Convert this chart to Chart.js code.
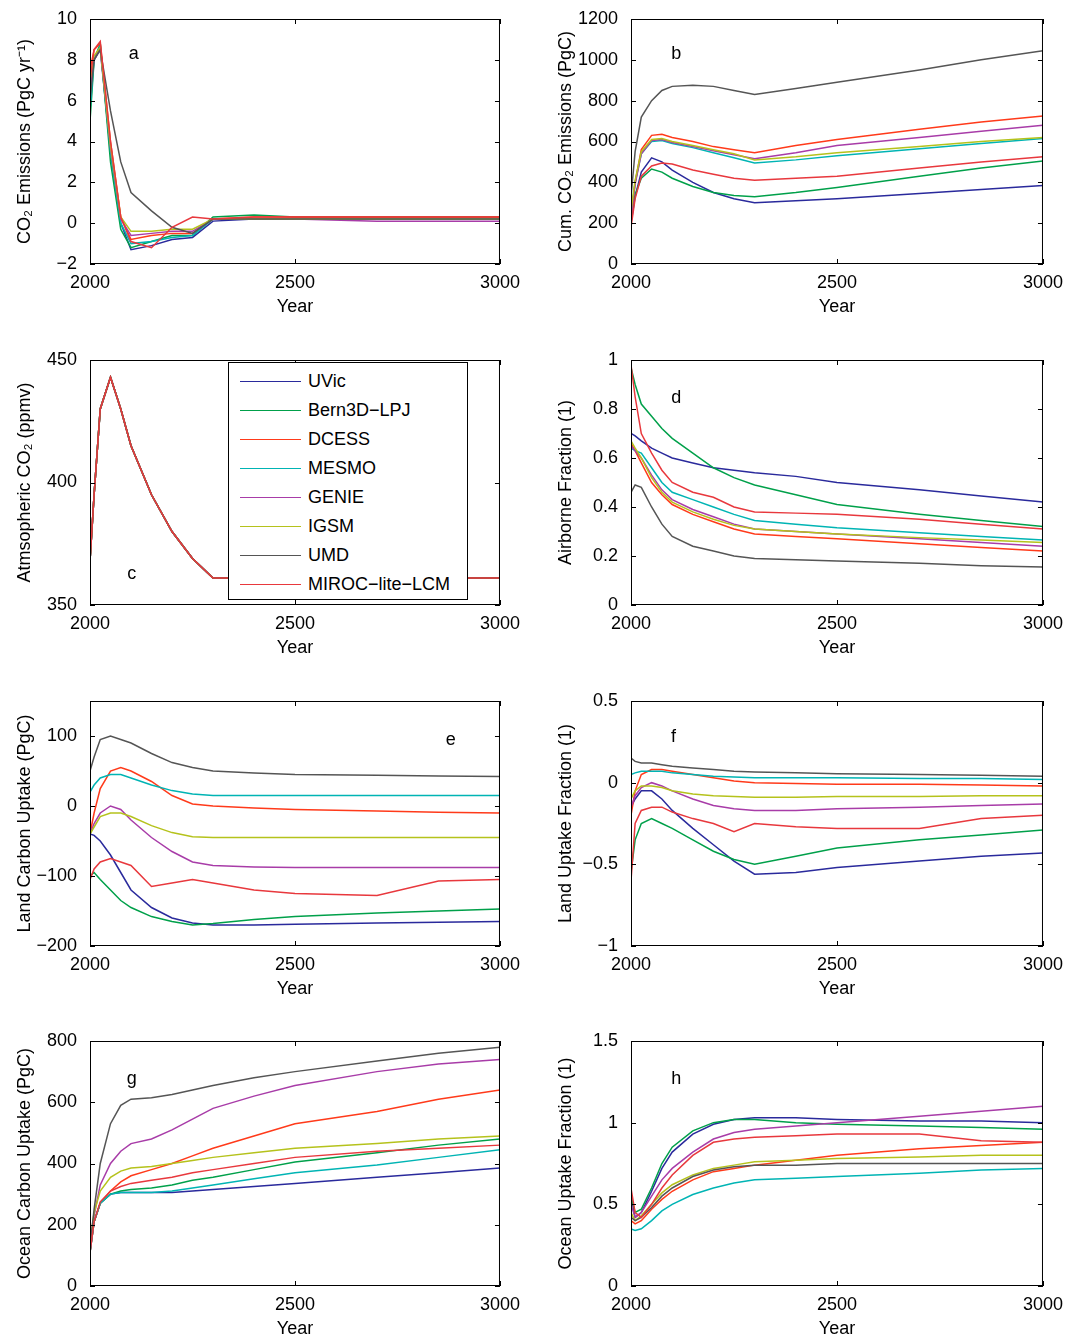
<!DOCTYPE html>
<html>
<head>
<meta charset="utf-8">
<script src="https://cdn.jsdelivr.net/npm/chart.js@4.4.0/dist/chart.umd.min.js"></script>
<style>
  body { margin: 0; width: 1066px; height: 1334px; overflow: hidden; background: #fff; position: relative; font-family: "Liberation Sans", Arial, sans-serif; }
  canvas { position: absolute; }
  #legend { position: absolute; left: 228px; top: 362px; width: 240px; height: 238px; border: 1px solid #000; background: #fff; box-sizing: border-box; }
  #legend div { position: absolute; left: 0; height: 29px; font-size: 18px; line-height: 29px; }
  #legend span.ln { position: absolute; left: 11px; top: 14px; width: 61px; height: 0; border-top: 1.5px solid; }
  #legend span.tx { position: absolute; left: 79px; white-space: nowrap; }
</style>
</head>
<body>
<script>
'use strict';

// DATA
const years = [2000, 2010, 2025, 2050, 2075, 2100, 2150, 2200, 2250, 2300, 2400, 2500, 2700, 2850, 3000];
const models = ['UVic', 'Bern3D\u2212LPJ', 'DCESS', 'MESMO', 'GENIE', 'IGSM', 'UMD', 'MIROC\u2212lite\u2212LCM'];
const colors = ['#2a2a9c', '#00a04a', '#ff3a1a', '#00b4b4', '#a83ca8', '#b5c21c', '#555555', '#e8383d'];

// a: CO2 emissions
const emisUVic  = [7, 8, 8.5, 3.5, 0, -1.3, -1.1, -0.8, -0.7, 0.1, 0.2, 0.2, 0.2, 0.2, 0.2];
const emisBern  = [5, 8, 8.8, 3, -0.3, -1.2, -0.9, -0.6, -0.6, 0.3, 0.4, 0.3, 0.3, 0.3, 0.3];
const emisDCESS = [7.5, 8.5, 8.8, 4, 0.3, -0.8, -0.6, -0.5, -0.5, 0.2, 0.3, 0.3, 0.3, 0.3, 0.3];
const emisMESMO = [5.5, 8, 8.7, 3.5, 0, -1.0, -0.9, -0.7, -0.6, 0.2, 0.2, 0.2, 0.2, 0.2, 0.2];
const emisGENIE = [6.5, 8, 8.6, 3.7, 0.2, -0.6, -0.5, -0.4, -0.4, 0.2, 0.2, 0.2, 0.1, 0.1, 0.1];
const emisIGSM  = [7, 8.2, 8.6, 3.8, 0.3, -0.4, -0.4, -0.3, -0.3, 0.2, 0.2, 0.2, 0.2, 0.2, 0.2];
const emisUMD   = [6, 8, 8.5, 5.5, 3, 1.5, 0.6, -0.2, -0.5, 0.2, 0.2, 0.2, 0.2, 0.2, 0.2];
const emisMIROC = [7, 8.5, 8.9, 4, 0.3, -0.9, -1.2, -0.2, 0.3, 0.2, 0.3, 0.3, 0.3, 0.3, 0.3];

// b: cumulative emissions
const cumUVic  = [200, 330, 450, 520, 500, 460, 400, 350, 320, 300, 310, 320, 345, 365, 385];
const cumBern  = [230, 340, 420, 465, 450, 420, 380, 350, 335, 330, 350, 375, 430, 470, 505];
const cumDCESS = [220, 400, 560, 630, 635, 620, 600, 575, 560, 545, 580, 610, 660, 695, 725];
const cumMESMO = [250, 400, 540, 600, 605, 590, 570, 545, 520, 495, 510, 530, 565, 590, 615];
const cumGENIE = [230, 390, 540, 605, 610, 595, 575, 555, 535, 515, 545, 580, 620, 650, 680];
const cumIGSM  = [260, 410, 550, 610, 615, 600, 580, 560, 540, 510, 525, 545, 575, 600, 620];
const cumUMD   = [330, 550, 720, 800, 850, 870, 875, 870, 850, 830, 860, 890, 950, 1000, 1045];
const cumMIROC = [180, 320, 430, 480, 495, 490, 460, 440, 420, 410, 420, 430, 470, 500, 525];

// c: atmospheric CO2 (same for all models)
const atmCO2 = [368, 395, 430, 443, 430, 415, 395, 380, 369, 361, 361, 361, 361, 361, 361];

// d: airborne fraction
const afUVic  = [0.70, 0.69, 0.67, 0.64, 0.62, 0.60, 0.58, 0.56, 0.55, 0.54, 0.525, 0.50, 0.47, 0.445, 0.42];
const afBern  = [0.97, 0.90, 0.82, 0.77, 0.72, 0.68, 0.62, 0.56, 0.52, 0.49, 0.45, 0.41, 0.37, 0.345, 0.32];
const afDCESS = [0.66, 0.63, 0.58, 0.50, 0.45, 0.41, 0.37, 0.34, 0.31, 0.29, 0.28, 0.27, 0.25, 0.235, 0.22];
const afMESMO = [0.64, 0.63, 0.62, 0.56, 0.50, 0.46, 0.43, 0.40, 0.37, 0.345, 0.33, 0.315, 0.295, 0.28, 0.265];
const afGENIE = [0.65, 0.63, 0.60, 0.53, 0.47, 0.43, 0.39, 0.36, 0.33, 0.31, 0.30, 0.29, 0.27, 0.255, 0.24];
const afIGSM  = [0.67, 0.64, 0.60, 0.52, 0.46, 0.42, 0.38, 0.35, 0.325, 0.31, 0.30, 0.29, 0.275, 0.265, 0.255];
const afUMD   = [0.46, 0.49, 0.48, 0.40, 0.33, 0.28, 0.24, 0.22, 0.20, 0.19, 0.185, 0.18, 0.17, 0.16, 0.155];
const afMIROC = [0.98, 0.85, 0.70, 0.62, 0.55, 0.50, 0.46, 0.44, 0.40, 0.38, 0.375, 0.37, 0.35, 0.33, 0.31];

// e: land carbon uptake
const lcUVic  = [-40, -42, -50, -70, -95, -120, -145, -160, -167, -170, -170, -169, -167, -166, -165];
const lcBern  = [-100, -95, -105, -120, -135, -145, -158, -165, -170, -168, -162, -158, -153, -150, -147];
const lcDCESS = [-40, -10, 25, 50, 55, 50, 35, 15, 3, 0, -3, -5, -7, -9, -10];
const lcMESMO = [20, 30, 40, 45, 45, 40, 30, 22, 17, 15, 15, 15, 15, 15, 15];
const lcGENIE = [-40, -25, -10, 0, -5, -20, -45, -65, -80, -85, -87, -88, -88, -88, -88];
const lcIGSM  = [-40, -30, -15, -10, -10, -15, -28, -38, -44, -45, -45, -45, -45, -45, -45];
const lcUMD   = [50, 70, 95, 100, 95, 90, 75, 62, 55, 50, 47, 45, 44, 43, 42];
const lcMIROC = [-105, -90, -80, -75, -80, -85, -115, -110, -105, -110, -120, -125, -128, -107, -105];

// f: land uptake fraction
const lfUVic  = [-0.15, -0.1, -0.05, -0.05, -0.1, -0.17, -0.28, -0.38, -0.48, -0.56, -0.55, -0.52, -0.48, -0.45, -0.43];
const lfBern  = [-0.55, -0.35, -0.25, -0.22, -0.25, -0.28, -0.35, -0.42, -0.47, -0.5, -0.45, -0.40, -0.35, -0.32, -0.29];
const lfDCESS = [-0.2, -0.05, 0.05, 0.08, 0.08, 0.07, 0.05, 0.03, 0.01, 0, -0.005, -0.01, -0.01, -0.015, -0.02];
const lfMESMO = [0.05, 0.06, 0.07, 0.07, 0.07, 0.06, 0.05, 0.04, 0.035, 0.03, 0.03, 0.03, 0.025, 0.025, 0.02];
const lfGENIE = [-0.15, -0.08, -0.03, 0, -0.02, -0.05, -0.10, -0.14, -0.16, -0.17, -0.17, -0.16, -0.15, -0.14, -0.13];
const lfIGSM  = [-0.1, -0.05, -0.02, -0.02, -0.03, -0.05, -0.07, -0.08, -0.085, -0.09, -0.09, -0.085, -0.085, -0.08, -0.08];
const lfUMD   = [0.15, 0.13, 0.12, 0.12, 0.11, 0.10, 0.09, 0.08, 0.07, 0.065, 0.06, 0.055, 0.05, 0.045, 0.04];
const lfMIROC = [-0.6, -0.25, -0.17, -0.15, -0.15, -0.18, -0.22, -0.25, -0.30, -0.25, -0.27, -0.28, -0.28, -0.22, -0.20];

// g: ocean carbon uptake
const ocUVic  = [110, 210, 270, 300, 305, 305, 305, 305, 310, 315, 325, 335, 355, 370, 385];
const ocBern  = [110, 210, 270, 300, 310, 315, 320, 330, 345, 355, 380, 405, 435, 460, 480];
const ocDCESS = [110, 210, 270, 310, 340, 360, 380, 400, 425, 450, 490, 530, 570, 610, 640];
const ocMESMO = [110, 210, 270, 300, 305, 305, 305, 310, 320, 330, 350, 370, 395, 420, 445];
const ocGENIE = [120, 230, 330, 400, 440, 465, 480, 510, 545, 580, 620, 655, 700, 725, 740];
const ocIGSM  = [140, 240, 310, 355, 375, 385, 390, 400, 410, 420, 435, 450, 465, 480, 490];
const ocUMD   = [130, 250, 400, 530, 590, 610, 615, 625, 640, 655, 680, 700, 735, 760, 780];
const ocMIROC = [110, 210, 275, 310, 325, 335, 345, 355, 370, 380, 400, 420, 440, 450, 460];

// h: ocean uptake fraction
const ofUVic  = [0.55, 0.42, 0.45, 0.58, 0.72, 0.82, 0.93, 0.99, 1.02, 1.03, 1.03, 1.02, 1.01, 1.01, 1.0];
const ofBern  = [0.55, 0.45, 0.47, 0.60, 0.75, 0.85, 0.95, 1.0, 1.02, 1.02, 1.00, 0.99, 0.98, 0.97, 0.96];
const ofDCESS = [0.4, 0.38, 0.40, 0.47, 0.53, 0.58, 0.65, 0.70, 0.72, 0.74, 0.77, 0.80, 0.84, 0.86, 0.88];
const ofMESMO = [0.35, 0.34, 0.35, 0.40, 0.46, 0.50, 0.56, 0.60, 0.63, 0.65, 0.66, 0.67, 0.69, 0.71, 0.72];
const ofGENIE = [0.5, 0.42, 0.45, 0.55, 0.65, 0.72, 0.82, 0.90, 0.94, 0.96, 0.98, 1.0, 1.04, 1.07, 1.1];
const ofIGSM  = [0.45, 0.40, 0.43, 0.50, 0.57, 0.62, 0.68, 0.72, 0.74, 0.76, 0.77, 0.78, 0.79, 0.80, 0.80];
const ofUMD   = [0.42, 0.40, 0.42, 0.48, 0.55, 0.60, 0.67, 0.71, 0.73, 0.74, 0.74, 0.75, 0.75, 0.75, 0.75];
const ofMIROC = [0.6, 0.45, 0.42, 0.50, 0.60, 0.68, 0.80, 0.88, 0.90, 0.91, 0.92, 0.93, 0.93, 0.89, 0.88];

const xTicks = [2000, 2500, 3000];

// PANELS
const panels = [
  { letter: 'a', lx: 0.107, ly: 0.143, title: 'CO\u2082 Emissions (PgC yr\u207B\u00B9)', min: -2, max: 10, ticks: [-2, 0, 2, 4, 6, 8, 10],
    series: [emisUVic, emisBern, emisDCESS, emisMESMO, emisGENIE, emisIGSM, emisUMD, emisMIROC] },
  { letter: 'b', lx: 0.11, ly: 0.143, title: 'Cum. CO\u2082 Emissions (PgC)', min: 0, max: 1200, ticks: [0, 200, 400, 600, 800, 1000, 1200],
    series: [cumUVic, cumBern, cumDCESS, cumMESMO, cumGENIE, cumIGSM, cumUMD, cumMIROC] },
  { letter: 'c', lx: 0.102, ly: 0.873, title: 'Atmsopheric CO\u2082 (ppmv)', min: 350, max: 450, ticks: [350, 400, 450],
    series: [atmCO2, atmCO2, atmCO2, atmCO2, atmCO2, atmCO2, atmCO2, atmCO2] },
  { letter: 'd', lx: 0.11, ly: 0.155, title: 'Airborne Fraction (1)', min: 0, max: 1, ticks: [0, 0.2, 0.4, 0.6, 0.8, 1],
    series: [afUVic, afBern, afDCESS, afMESMO, afGENIE, afIGSM, afUMD, afMIROC] },
  { letter: 'e', lx: 0.88, ly: 0.16, title: 'Land Carbon Uptake (PgC)', min: -200, max: 150, ticks: [-200, -100, 0, 100],
    series: [lcUVic, lcBern, lcDCESS, lcMESMO, lcGENIE, lcIGSM, lcUMD, lcMIROC] },
  { letter: 'f', lx: 0.103, ly: 0.148, title: 'Land Uptake Fraction (1)', min: -1, max: 0.5, ticks: [-1, -0.5, 0, 0.5],
    series: [lfUVic, lfBern, lfDCESS, lfMESMO, lfGENIE, lfIGSM, lfUMD, lfMIROC] },
  { letter: 'g', lx: 0.102, ly: 0.155, title: 'Ocean Carbon Uptake (PgC)', min: 0, max: 800, ticks: [0, 200, 400, 600, 800],
    series: [ocUVic, ocBern, ocDCESS, ocMESMO, ocGENIE, ocIGSM, ocUMD, ocMIROC] },
  { letter: 'h', lx: 0.11, ly: 0.155, title: 'Ocean Uptake Fraction (1)', min: 0, max: 1.5, ticks: [0, 0.5, 1, 1.5],
    series: [ofUVic, ofBern, ofDCESS, ofMESMO, ofGENIE, ofIGSM, ofUMD, ofMIROC] }
];

const rowTops = [0, 341, 682, 1022];
const font = { family: '"Liberation Sans", Arial, sans-serif', size: 18 };

function fmt(v) {
  if (v < 0) return '\u2212' + Math.abs(v);
  return String(v);
}

// frame, inward ticks and letter
const framePlugin = {
  id: 'frame',
  afterDatasetsDraw(chart, args, opts) {
    const a = chart.chartArea, ctx = chart.ctx;
    ctx.save();
    ctx.strokeStyle = '#000';
    ctx.lineWidth = 1;
    ctx.strokeRect(a.left + 0.5, a.top + 0.5, a.right - a.left - 1, a.bottom - a.top - 1);
    const xs = chart.scales.x, ys = chart.scales.y;
    ctx.beginPath();
    xs.ticks.forEach(t => {
      const px = Math.round(xs.getPixelForValue(t.value)) + 0.5;
      ctx.moveTo(px, a.bottom); ctx.lineTo(px, a.bottom - 5);
      ctx.moveTo(px, a.top); ctx.lineTo(px, a.top + 5);
    });
    ys.ticks.forEach(t => {
      const py = Math.round(ys.getPixelForValue(t.value)) + 0.5;
      ctx.moveTo(a.left, py); ctx.lineTo(a.left + 5, py);
      ctx.moveTo(a.right, py); ctx.lineTo(a.right - 5, py);
    });
    ctx.stroke();
    ctx.fillStyle = '#000';
    ctx.font = '18px ' + font.family;
    ctx.textAlign = 'center';
    ctx.textBaseline = 'middle';
    ctx.fillText(opts.letter, a.left + opts.lx * (a.right - a.left), a.top + opts.ly * (a.bottom - a.top));
    ctx.restore();
  }
};

panels.forEach(function(p, i) {
  const col = i % 2, row = Math.floor(i / 2);
  const canvas = document.createElement('canvas');
  const w = col === 0 ? 520 : 522;
  canvas.width = w; canvas.height = 322;
  canvas.style.left = (col === 0 ? 0 : 541) + 'px';
  canvas.style.top = rowTops[row] + 'px';
  canvas.style.width = w + 'px'; canvas.style.height = '322px';
  document.body.appendChild(canvas);

  const datasets = p.series.map(function(vals, k) {
    return {
      label: models[k],
      data: vals.map((v, j) => ({ x: years[j], y: v })),
      borderColor: colors[k],
      borderWidth: 1.5,
      pointRadius: 0,
      fill: false,
      order: models.length - k
    };
  });

  new Chart(canvas.getContext('2d'), {
    type: 'line',
    data: { datasets: datasets },
    plugins: [framePlugin],
    options: {
      responsive: false,
      animation: false,
      devicePixelRatio: 1,
      layout: { padding: { top: 19, right: 0, left: 0, bottom: 0 } },
      plugins: { legend: { display: false }, tooltip: { enabled: false }, frame: { letter: p.letter, lx: p.lx, ly: p.ly } },
      scales: {
        x: {
          type: 'linear', min: 2000, max: 3000,
          afterBuildTicks: s => { s.ticks = xTicks.map(v => ({ value: v })); },
          afterFit: s => { s.height = 58; },
          grid: { display: false },
          border: { display: false },
          ticks: { color: '#000', font: font, maxRotation: 0, padding: 0, callback: v => String(v) },
          title: { display: true, text: 'Year', color: '#000', font: font, padding: { top: 0 } }
        },
        y: {
          min: p.min, max: p.max,
          afterBuildTicks: s => { s.ticks = p.ticks.map(v => ({ value: v })); },
          afterFit: s => { s.width = 90; },
          grid: { display: false },
          border: { display: false },
          ticks: { color: '#000', font: font, padding: 5, callback: v => fmt(v) },
          title: { display: true, text: p.title, color: '#000', font: font, padding: { top: 14, bottom: 0 } }
        }
      }
    }
  });
});

// legend in panel c
const legend = document.createElement('div');
legend.id = 'legend';
models.forEach(function(m, k) {
  const item = document.createElement('div');
  item.style.top = (4 + k * 29) + 'px';
  item.style.width = '238px';
  item.innerHTML = '<span class="ln" style="border-color:' + colors[k] + '"></span><span class="tx">' + m + '</span>';
  legend.appendChild(item);
});
document.body.appendChild(legend);
</script>
</body>
</html>
